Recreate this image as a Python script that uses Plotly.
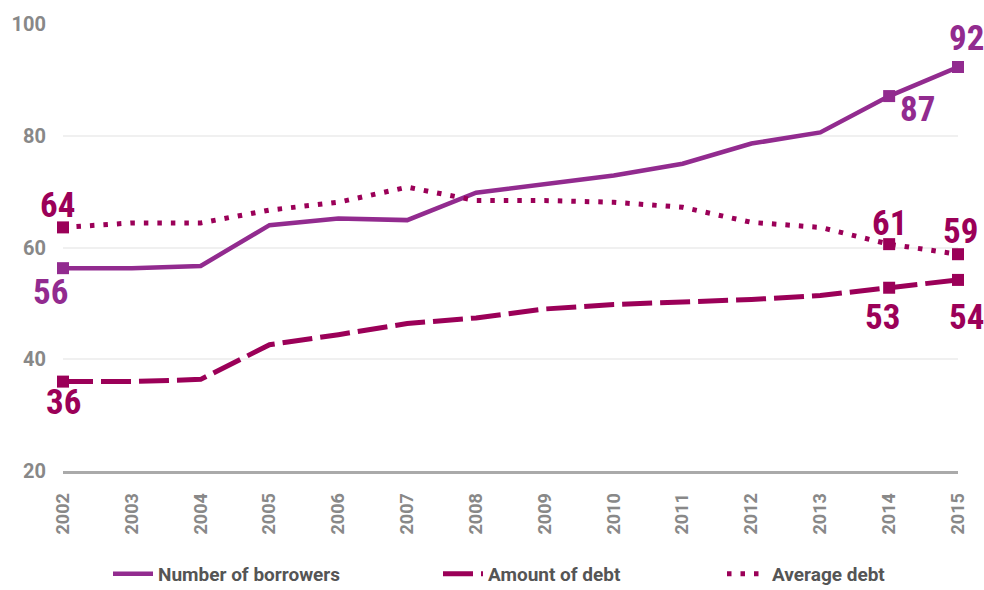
import plotly.graph_objects as go

years = list(range(2002, 2016))
borrowers = [56.3, 56.3, 56.7, 64.0, 65.2, 64.9, 69.8, 71.4, 72.9, 75.0, 78.6, 80.6, 87.1, 92.3]
amount_debt = [36.0, 36.0, 36.4, 42.6, 44.4, 46.4, 47.4, 49.0, 49.8, 50.2, 50.7, 51.4, 52.8, 54.2]
average_debt = [63.6, 64.4, 64.4, 66.7, 68.1, 70.8, 68.4, 68.4, 68.1, 67.2, 64.5, 63.6, 60.6, 58.8]
series_names = ["Number of borrowers", "Amount of debt", "Average debt"]
y_ticks = [20, 40, 60, 80, 100]
marker_idx = [0, 12, 13]

PURPLE = "#922B8F"
MAGENTA = "#9B0058"
LABEL_FONT = "Roboto Condensed, Liberation Sans Narrow, Open Sans Condensed, DejaVu Sans Condensed, sans-serif"

fig = go.Figure()

styles = [
    (borrowers, PURPLE, "solid", 4.5, "legend"),
    (amount_debt, MAGENTA, "30px,8px", 5, "legend2"),
    (average_debt, MAGENTA, "4.5px,9px", 5, "legend3"),
]

for name, (vals, col, dash, w, leg) in zip(series_names, styles):
    fig.add_trace(go.Scatter(
        x=years, y=vals, mode="lines", name=name,
        line=dict(color=col, width=w, dash=dash),
        legend=leg, cliponaxis=False,
    ))
    fig.add_trace(go.Scatter(
        x=[years[i] for i in marker_idx], y=[vals[i] for i in marker_idx],
        mode="markers", showlegend=False, cliponaxis=False,
        marker=dict(symbol="square", size=12, color=col),
    ))

# data labels: (series values, color, index, xshift, yshift)
label_specs = [
    (borrowers, PURPLE, 0, -13, -24),
    (borrowers, PURPLE, 12, 28, -13),
    (borrowers, PURPLE, 13, 8, 29),
    (average_debt, MAGENTA, 0, -6, 22),
    (average_debt, MAGENTA, 12, 0, 21),
    (average_debt, MAGENTA, 13, 2, 23),
    (amount_debt, MAGENTA, 0, 0, -21),
    (amount_debt, MAGENTA, 12, -7, -30),
    (amount_debt, MAGENTA, 13, 8, -38),
]
for vals, col, i, xs, ys in label_specs:
    fig.add_annotation(
        x=years[i], y=vals[i], text=str(round(vals[i])), showarrow=False,
        xshift=xs, yshift=ys,
        font=dict(family=LABEL_FONT, size=35, color=col, weight="bold"),
    )

leg_common = dict(orientation="h", xref="container", yref="container",
                  yanchor="middle", xanchor="left",
                  font=dict(family="Roboto", size=19, color="#555555", weight="bold"),
                  bgcolor="rgba(0,0,0,0)", itemwidth=40)

fig.update_layout(
    width=984, height=590,
    margin=dict(l=63, r=26, t=22, b=119),
    paper_bgcolor="white", plot_bgcolor="white",
    xaxis=dict(
        range=[2002, 2015], tickmode="array", tickvals=years,
        ticktext=[str(y) for y in years], tickangle=-90,
        showgrid=False, zeroline=False, showline=True,
        linecolor="#AAAAAA", linewidth=3,
        tickfont=dict(family="Roboto", size=18, color="#888888", weight="bold"),
        ticklabelstandoff=12, ticks="",
    ),
    yaxis=dict(
        range=[20, 100], tickmode="array", tickvals=y_ticks,
        showgrid=True, gridcolor="#F0F0F0", gridwidth=2, zeroline=False,
        tickfont=dict(family="Roboto", size=20, color="#888888", weight="bold"),
        ticklabelstandoff=16, ticks="",
    ),
    legend=dict(x=108 / 984, y=16 / 590, **leg_common),
    legend2=dict(x=438 / 984, y=16 / 590, **leg_common),
    legend3=dict(x=722 / 984, y=16 / 590, **leg_common),
    showlegend=True,
)

fig.write_html("out.html", config={"displayModeBar": False},
               post_script="document.body.style.margin='0';document.body.style.overflow='hidden';")
